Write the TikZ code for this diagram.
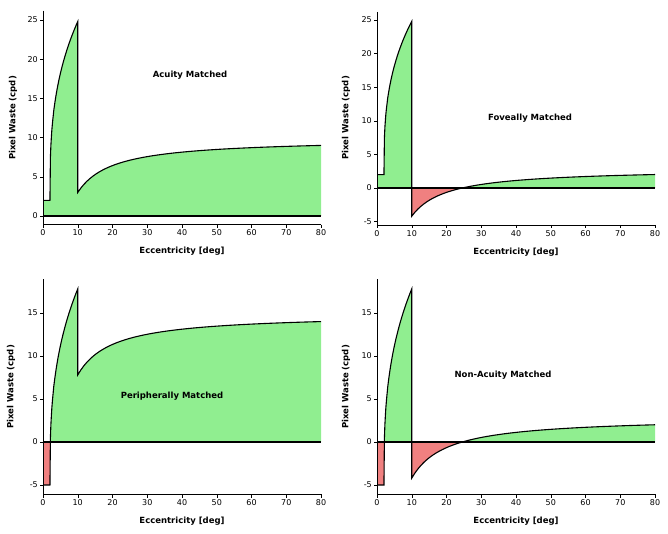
\documentclass[tikz,border=0pt]{standalone}
\usepackage{fontspec}
\setmainfont{DejaVu Sans}
\definecolor{lg}{HTML}{90EE90}
\definecolor{lc}{HTML}{F08080}
\tikzset{tick/.style={font=\fontsize{8}{9}\selectfont},
 lab/.style={font=\bfseries\fontsize{8.5}{10}\selectfont}}
\newcommand\mypanel[9]{%
\begin{scope}[shift={(#1pt,#2pt)}, x=3.475pt, y=#3pt]
\def\curve{(0,0) -- (0,#4) -- (2,#4) -- plot[domain=2.0001:10,samples=60] (\x,{#4+(#5-#4)*((\x-2)/8)^0.35}) -- (10,{#6-#7/10}) -- plot[domain=10:80,samples=80] (\x,{#6-#7/\x}) -- (80,0) -- cycle}
\begin{scope}\clip (0,0) rectangle (80,40); \fill[lg] \curve; \end{scope}
\begin{scope}\clip (0,-20) rectangle (80,0); \fill[lc] \curve; \end{scope}
\draw[line width=1.1pt] (0,#4) -- (2,#4) -- plot[domain=2.0001:10,samples=60] (\x,{#4+(#5-#4)*((\x-2)/8)^0.35}) -- (10,{#6-#7/10}) -- plot[domain=10:80,samples=80] (\x,{#6-#7/\x});
\draw[line width=1.1pt] (0,0) -- (80,0);
\draw[line width=0.6pt] (0,#9) -- (0,#8) -- (80,#8);
\foreach \t in {0,10,...,80} \draw (\t,#8) -- ++(0,-3.5pt) node[below,tick,inner sep=1.5pt] {\t};
\foreach \t in \yticks \draw (0,\t) -- ++(-3.5pt,0) node[left,tick,inner sep=1.5pt] {\t};
\node[lab] at (40,#8) [yshift=-27pt] {Eccentricity [deg]};
\end{scope}}
\begin{document}
\begin{tikzpicture}
\useasboundingbox (0,0) rectangle (668pt,533pt);
\def\yticks{0,5,10,15,20,25}
\mypanel{43}{317}{7.84}{2}{24.8}{9.86}{68.6}{-1.1}{26.2}
\def\yticks{-5,0,5,10,15,20,25}
\mypanel{377}{345}{6.72}{2}{24.8}{2.89}{70.9}{-5.5}{26.2}
\def\yticks{-5,0,5,10,15}
\mypanel{43}{91}{8.6}{-5}{17.8}{14.89}{70.9}{-6.05}{18.95}
\mypanel{377}{91}{8.6}{-5}{17.8}{2.89}{70.9}{-6.05}{18.95}
\node[lab,rotate=90] (y1) at (13pt,415pt) {Pixel Waste (cpd)};
\node[lab,rotate=90] (y2) at (346pt,415pt) {Pixel Waste (cpd)};
\node[lab,rotate=90] (y3) at (11pt,146pt) {Pixel Waste (cpd)};
\node[lab,rotate=90] (y4) at (346pt,146pt) {Pixel Waste (cpd)};
\node[lab] (t1) at (190pt,458pt) {Acuity Matched};
\node[lab] (t2) at (530pt,415pt) {Foveally Matched};
\node[lab] (t3) at (172pt,137pt) {Peripherally Matched};
\node[lab] (t4) at (503pt,158pt) {Non-Acuity Matched};
\end{tikzpicture}
\end{document}
